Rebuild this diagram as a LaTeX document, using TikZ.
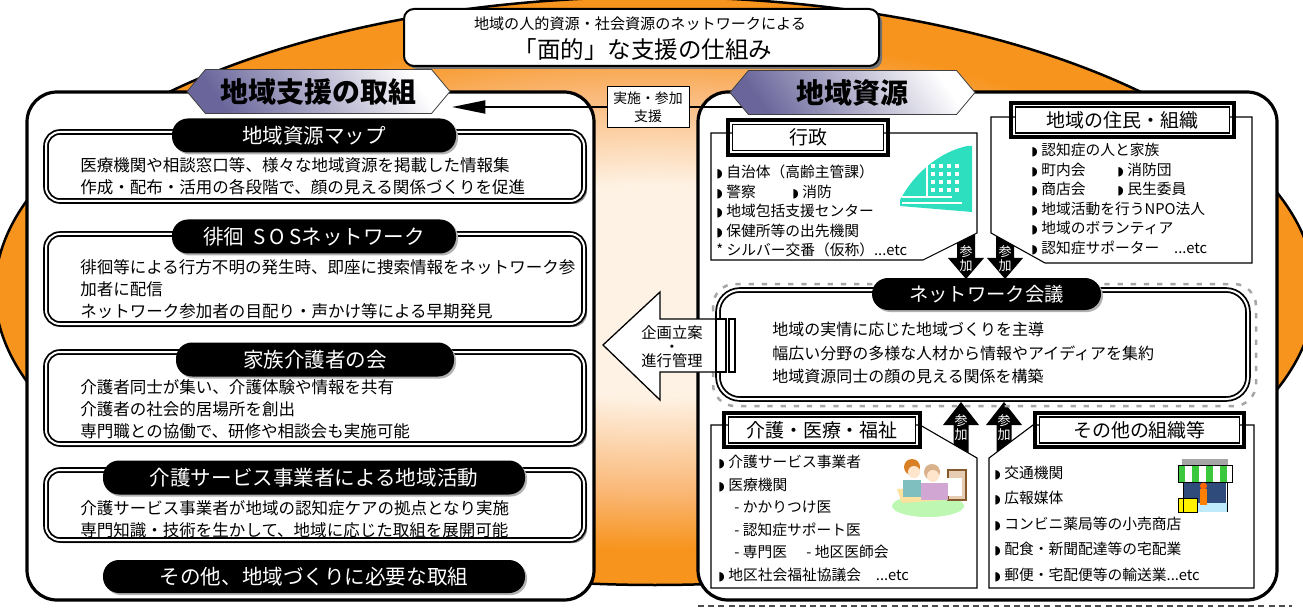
\documentclass[tikz,border=0pt]{standalone}
\usepackage{fontspec}
\setmainfont{Noto Sans CJK JP}
\newfontfamily\symfont{DejaVu Sans}
\usepackage{tikz}
\usetikzlibrary{positioning, shapes, calc, arrows.meta, shadows}

\definecolor{rimorange}{HTML}{F7941D}
\definecolor{midorange}{HTML}{FAB877}
\definecolor{paleorange}{HTML}{FEF2E4}
\definecolor{bannerdark}{HTML}{6A669B}
\definecolor{bldteal}{HTML}{2EDFBF}
\definecolor{shopgreen}{HTML}{3CC83C}
\definecolor{shopnavy}{HTML}{2F4B7C}
\definecolor{matgreen}{HTML}{BDF7B2}

\pgfdeclareradialshading{ovalglow}{\pgfpoint{0bp}{0bp}}{color(0bp)=(paleorange); color(9bp)=(paleorange); color(17bp)=(midorange); color(22bp)=(rimorange); color(25bp)=(rimorange); color(50bp)=(rimorange)}

\newdimen\pxu
\pxu=0.02cm
\newcommand{\bul}{{\symfont\fontsize{7}{7}\selectfont ◗}\hspace{2pt}}

\begin{document}
\begin{tikzpicture}[x=0.02cm, y=-0.02cm,
	every node/.style={inner sep=0pt},
	panel/.style={draw, line width=3.2*\pxu, fill=white, rounded corners=30*\pxu},
	banner/.style={signal, signal to=west and east, signal pointer angle=100, draw=black!75, line width=0.8*\pxu, top color=white, bottom color=bannerdark, shading angle=-55, minimum height=44*\pxu, font=\bfseries\fontsize{15.9}{16}\selectfont},
	twoline/.style={draw, double=white, double distance=2*\pxu, line width=1.8*\pxu, fill=white},
	dblframe/.style={twoline, rounded corners=14*\pxu, drop shadow={shadow xshift=3*\pxu, shadow yshift=-3*\pxu, fill=black!45, opacity=1}},
	pillhead/.style={fill=black, text=white, rounded corners=16*\pxu, minimum height=34*\pxu, font=\fontsize{11.7}{12}\selectfont, drop shadow={shadow xshift=2*\pxu, shadow yshift=-2*\pxu, fill=black!30, opacity=1}},
	bodytext/.style={anchor=west, align=left, font=\fontsize{9.4}{12.5}\selectfont},
	sectline/.style={draw, line width=1.1*\pxu, fill=white},
	secttitle/.style={draw, line width=1.2*\pxu, fill=white, minimum height=26*\pxu, font=\fontsize{10.8}{11}\selectfont},
	itemtext/.style={anchor=west, align=left},
	joinlbl/.style={text=white, align=center, font=\fontsize{7.4}{7.9}\selectfont}
	]
	
	\useasboundingbox (0,0) rectangle (1303,608);
	\clip (0,0) rectangle (1303,608);
	
	%//orange oval behind both panels
	\shadedraw[shading=ovalglow, line width=2.5*\pxu] (655,291) ellipse [x radius=660, y radius=294];
	
	%//heading
	\node[draw, fill=white, line width=2*\pxu, rounded corners=10*\pxu, minimum width=475*\pxu, minimum height=57*\pxu, drop shadow={shadow xshift=3*\pxu, shadow yshift=-3*\pxu, fill=black!55, opacity=1}] (frame) at (641.5,37.5) {};
	\node[font=\fontsize{8.6}{9}\selectfont] (framesub) at (640,24) {地域の人的資源・社会資源のネットワークによる};
	\node[font=\fontsize{13.4}{14}\selectfont] (framemain) at (643,50) {「面的」な支援の仕組み};
	
	%//two panels
	\draw[panel] (27,92) rectangle (594,600);
	\draw[panel] (698,92) rectangle (1277,600);
	\draw[black!70, line width=1.5*\pxu, dash pattern=on 3.4pt off 2.4pt] (698,606) -- (1292,606);
	
	\coordinate (supin) at (452,107);
	\coordinate (supout) at (748,107);
	\draw[line width=2*\pxu, -{Triangle[length=19pt, width=7.4pt]}] (supout) -- (supin);
	
	\node[banner, minimum width=263*\pxu] (supbanner) at (318.5,91.5) {地域支援の取組};
	\node[banner, minimum width=245*\pxu] (resbanner) at (852.5,92.5) {地域資源};
	
	\node[draw, fill=white, line width=1*\pxu, minimum width=82*\pxu, minimum height=41*\pxu, align=center, font=\fontsize{7.9}{10.2}\selectfont] (support) at (648,107.5) {実施・参加\\支援};
	
	%//left side
	\foreach \ya/\yb in {132/201, 234/324, 352/444, 470/540}
		\draw[dblframe] (46,\ya) rectangle (584,\yb);
	
	\node[pillhead, minimum width=284*\pxu] (mapttl) at (314,135.5) {地域資源マップ};
	\node[pillhead, minimum width=284*\pxu] (sosttl) at (314,236.5) {徘徊\hspace{5pt}S\hspace{2.5pt}O\hspace{2.5pt}Sネットワーク};
	\node[pillhead, minimum width=278*\pxu] (famttl) at (315,359.5) {家族介護者の会};
	\node[pillhead, minimum width=422*\pxu] (svcttl) at (314,477.5) {介護サービス事業者による地域活動};
	\node[pillhead, minimum width=422*\pxu, minimum height=33*\pxu] (etcttl) at (314,576.5) {その他、地域づくりに必要な取組};
	
	\node[bodytext] (mapbody) at (80,176.5) {医療機関や相談窓口等、様々な地域資源を掲載した情報集\\作成・配布・活用の各段階で、顔の見える関係づくりを促進};
	\node[bodytext] (sosbody) at (80,289) {徘徊等による行方不明の発生時、即座に捜索情報をネットワーク参\\加者に配信\\ネットワーク参加者の目配り・声かけ等による早期発見};
	\node[bodytext] (fambody) at (80,409) {介護者同士が集い、介護体験や情報を共有\\介護者の社会的居場所を創出\\専門職との協働で、研修や相談会も実施可能};
	\node[bodytext] (svcbody) at (80,519) {介護サービス事業者が地域の認知症ケアの拠点となり実施\\専門知識・技術を生かして、地域に応じた取組を展開可能};
	
	%//join arrows
	\foreach \ax in {966,1005}
	{
		\fill (\ax-9,225) -- (\ax+9,225) -- (\ax+9,258) -- (\ax+18,258) -- (\ax,279) -- (\ax-18,258) -- (\ax-9,258) -- cycle;
		\node[joinlbl] (jd\ax) at (\ax,259) {参\\加};
	}
	\foreach \ax in {961,1004}
	{
		\fill (\ax,402) -- (\ax+18,425) -- (\ax+7.5,425) -- (\ax+7.5,475) -- (\ax-7.5,475) -- (\ax-7.5,425) -- (\ax-18,425) -- cycle;
		\node[joinlbl] (ju\ax) at (\ax,428) {参\\加};
	}
	
	%//resource groups
	\draw[sectline] (711,133) -- (977,133) -- (977,233) -- (923,260) -- (711,260) -- cycle;
	\draw[sectline] (991,117) -- (1252,117) -- (1252,263) -- (1045,263) -- (991,233) -- cycle;
	\draw[sectline] (711,425) -- (920,425) -- (977,458) -- (977,588) -- (711,588) -- cycle;
	\draw[sectline] (989,458) -- (1033,425) -- (1254,425) -- (1254,588) -- (989,588) -- cycle;
	
	\node[secttitle, minimum width=151*\pxu] (gyosei) at (808,137.5) {行政};
	\node[secttitle, minimum width=214*\pxu] (jumin) at (1122.5,120) {地域の住民・組織};
	\node[secttitle, minimum width=187*\pxu] (kaigo) at (822,430) {介護・医療・福祉};
	\node[secttitle, minimum width=200*\pxu] (sonota) at (1139.5,430) {その他の組織等};
	\foreach \t in {gyosei,jumin,kaigo,sonota}
		\draw[line width=4*\pxu] ($(\t.north west)+(-3.5,-3.5)$) rectangle ($(\t.south east)+(3.5,3.5)$);
	
	\node[itemtext, font=\fontsize{8.4}{11.05}\selectfont] (gyolist) at (716,211) {\bul 自治体（高齢主管課）\\ \makebox[76\pxu][l]{\bul 警察}\bul 消防\\ \bul 地域包括支援センター\\ \bul 保健所等の出先機関\\ {*} シルバー交番（仮称）...etc};
	\node[itemtext, font=\fontsize{8.4}{11.1}\selectfont] (jumlist) at (1031,199) {\bul 認知症の人と家族\\ \makebox[86\pxu][l]{\bul 町内会}\bul 消防団\\ \makebox[86\pxu][l]{\bul 商店会}\bul 民生委員\\ \bul 地域活動を行うNPO法人\\ \bul 地域のボランティア\\ \bul 認知症サポーター\quad ...etc};
	\node[itemtext, font=\fontsize{8.4}{12.8}\selectfont] (kailist) at (718,518.5) {\bul 介護サービス事業者\\ \bul 医療機関\\ \hspace*{16\pxu}- かかりつけ医\\ \hspace*{16\pxu}- 認知症サポート医\\ \hspace*{16\pxu}\makebox[72\pxu][l]{- 専門医}- 地区医師会\\ \bul 地区社会福祉協議会\quad ...etc};
	\node[itemtext, font=\fontsize{8.4}{14.5}\selectfont] (sonlist) at (994,524) {\bul 交通機関\\ \bul 広報媒体\\ \bul コンビニ薬局等の小売商店\\ \bul 配食・新聞配達等の宅配業\\ \bul 郵便・宅配便等の輸送業...etc};
	
	%//network meeting
	\draw[black!35, line width=2.5*\pxu, dash pattern=on 3pt off 4.5pt, rounded corners=22*\pxu] (713,284) rectangle (1256,406);
	\draw[twoline, rounded corners=22*\pxu] (718,290) rectangle (1248,399);
	\node[pillhead, minimum width=229*\pxu, minimum height=32*\pxu, font=\fontsize{11}{12}\selectfont] (netttl) at (986.5,294) {ネットワーク会議};
	\node[bodytext, font=\fontsize{9.1}{13.3}\selectfont] (netbody) at (772,353) {地域の実情に応じた地域づくりを主導\\幅広い分野の多様な人材から情報やアイディアを集約\\地域資源同士の顔の見える関係を構築};
	
	%//planning arrow back to the left
	\draw[fill=white, line width=1.3*\pxu] (603,345) -- (660,292) -- (660,319) -- (716,319) -- (716,372) -- (660,372) -- (660,400) -- cycle;
	\draw[fill=white, line width=1.3*\pxu] (716,319) rectangle (726,372);
	\draw[fill=white, line width=1.3*\pxu] (729,319) rectangle (735,372);
	\node[align=center, font=\fontsize{8.7}{7.9}\selectfont] (plan) at (672,347) {企画立案\\・\\進行管理};
	
	%//building mark
	\fill[bldteal] (900,200) .. controls (915,172) and (940,152) .. (967,146) -- (972,146) -- (972,212) -- (900,206) -- cycle;
	\foreach \wx in {931,939,947,955}
		\foreach \wy in {164,172,180,188}
			\fill[white] (\wx,\wy) rectangle ++(4,4);
	\fill[white] (902,196) rectangle (952,198.5);
	\fill[white] (902,202) rectangle (962,204);
	\fill[white] (926,158) rectangle (927.5,196);
	
	%//care scene
	\fill[matgreen] (928,506) ellipse [x radius=36, y radius=11];
	\draw[brown!70!black, line width=1.2*\pxu, fill=brown!40] (948,470) rectangle (966,500);
	\fill[white] (940,478) rectangle (962,496);
	\fill[yellow!40!orange!35] (897,489) -- (940,486) -- (945,500) -- (902,503) -- cycle;
	\fill[teal!50] (903,480) rectangle (921,497);
	\fill[violet!35] (921,483) rectangle (948,500);
	\fill[orange!40!brown] (912,467) circle [radius=8];
	\fill[orange!20] (914,472) circle [radius=6];
	\fill[brown!60] (932,472) circle [radius=8];
	\fill[orange!20] (933,476) circle [radius=6];
	
	%//shop mark
	\fill[black!35] (1182,459) rectangle (1228,465);
	\foreach \sx in {1178,1192,1206,1220}
		\fill[shopgreen] (\sx,465) rectangle ++(7,17);
	\draw[line width=0.8*\pxu] (1178,465) rectangle (1232,482);
	\fill[shopnavy] (1184,483) rectangle (1226,505);
	\fill[cyan!25] (1184,503) rectangle (1228,512);
	\fill[orange] (1200,489) rectangle (1207,505);
	\fill[orange!80!red] (1203.5,486) circle [radius=3.5];
	\draw[fill=yellow, line width=0.8*\pxu] (1178,498) rectangle (1197,512);
	\draw[line width=1*\pxu] (1183,482) -- (1183,512) (1227,482) -- (1227,512);
	
\end{tikzpicture}
\end{document}
